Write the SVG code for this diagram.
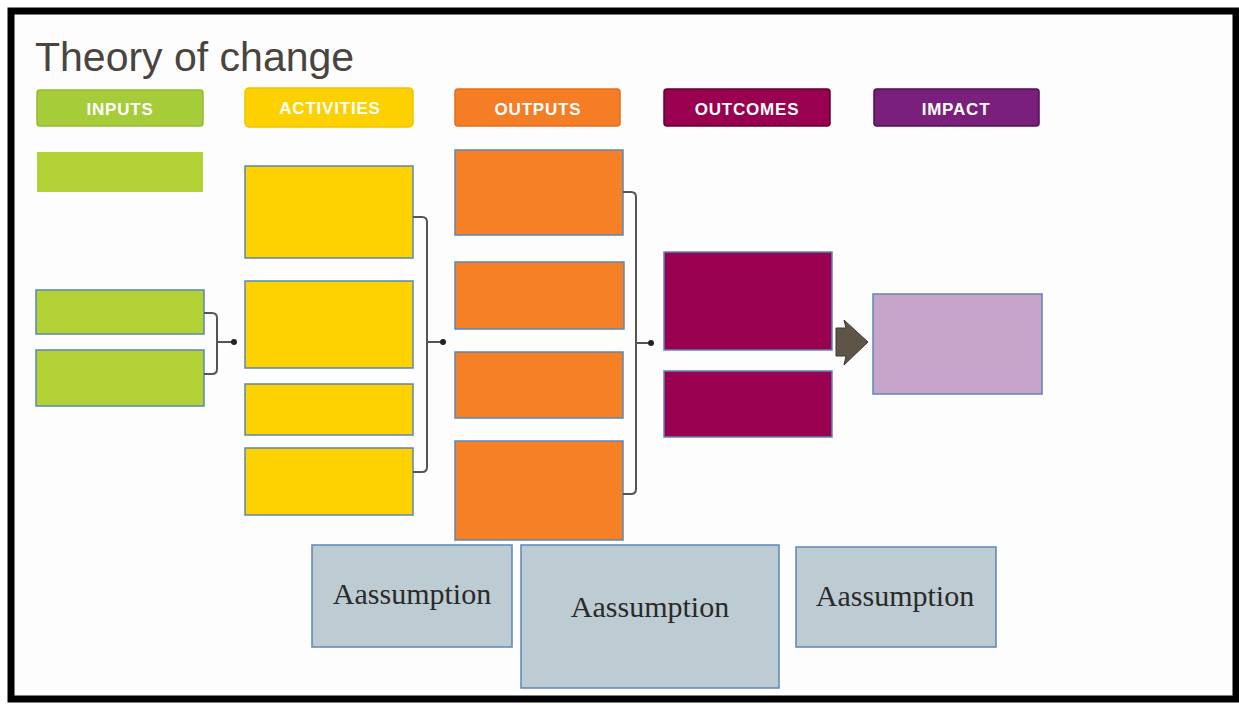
<svg xmlns="http://www.w3.org/2000/svg" width="1239" height="705" viewBox="0 0 1239 705">
<style>
.hdr{stroke-width:1.5}
.ht{font-family:"Liberation Sans",Arial,sans-serif;font-weight:bold;font-size:17px;fill:#ffffff;text-anchor:middle;letter-spacing:0.8px}
.bx{stroke:#5b86b8;stroke-width:1.5}
.as{fill:#bdcbd2;stroke:#5b86b8;stroke-width:1.5}
.at{font-family:"Liberation Serif","Times New Roman",serif;font-size:30px;fill:#2a2a2a;text-anchor:middle}
.br{fill:none;stroke:#555555;stroke-width:2}
.dot{fill:#222222}
</style>
<rect x="0" y="0" width="1239" height="705" fill="#ffffff"/>
<rect x="11" y="11" width="1225" height="688" fill="#fdfdfd" stroke="#000000" stroke-width="7"/>
<text x="35" y="71" font-family="'Liberation Sans',Arial,sans-serif" font-size="41" fill="#4a4440">Theory of change</text>

<g id="hdr-inputs"><rect class="hdr" x="37" y="90" width="166" height="36" rx="3" fill="#a6cc3a" stroke="#95b934"/><text class="ht" x="120" y="115">INPUTS</text></g>
<g id="hdr-activities"><rect class="hdr" x="245" y="88" width="168" height="39" rx="4" fill="#fdd100" stroke="#f0c400"/><text class="ht" x="330" y="114">ACTIVITIES</text></g>
<g id="hdr-outputs"><rect class="hdr" x="455" y="89" width="165" height="37" rx="3" fill="#f47d26" stroke="#e06f1c"/><text class="ht" x="538" y="115">OUTPUTS</text></g>
<g id="hdr-outcomes"><rect class="hdr" x="664" y="89" width="166" height="37" rx="3" fill="#99004f" stroke="#5e0030"/><text class="ht" x="747" y="115">OUTCOMES</text></g>
<g id="hdr-impact"><rect class="hdr" x="874" y="89" width="165" height="37" rx="3" fill="#7a1f7c" stroke="#4c1050"/><text class="ht" x="956" y="115">IMPACT</text></g>

<g id="input-1"><rect x="37" y="152" width="166" height="40" fill="#b2d235"/></g>
<g id="input-2"><rect class="bx" x="36" y="290" width="168" height="44" fill="#b2d235"/></g>
<g id="input-3"><rect class="bx" x="36" y="350" width="168" height="56" fill="#b2d235"/></g>

<g id="activity-1"><rect class="bx" x="245" y="166" width="168" height="92" fill="#fed100"/></g>
<g id="activity-2"><rect class="bx" x="245" y="281" width="168" height="87" fill="#fed100"/></g>
<g id="activity-3"><rect class="bx" x="245" y="384" width="168" height="51" fill="#fed100"/></g>
<g id="activity-4"><rect class="bx" x="245" y="448" width="168" height="67" fill="#fed100"/></g>

<g id="output-1"><rect class="bx" x="455" y="150" width="168" height="85" fill="#f58025"/></g>
<g id="output-2"><rect class="bx" x="455" y="262" width="169" height="67" fill="#f58025"/></g>
<g id="output-3"><rect class="bx" x="455" y="352" width="168" height="66" fill="#f58025"/></g>
<g id="output-4"><rect class="bx" x="455" y="441" width="168" height="99" fill="#f58025"/></g>

<g id="outcome-1"><rect class="bx" x="664" y="252" width="168" height="98" fill="#990050"/></g>
<g id="outcome-2"><rect class="bx" x="664" y="371" width="168" height="66" fill="#990050"/></g>

<g id="impact-1"><rect class="bx" x="873" y="294" width="169" height="100" fill="#c7a5cb"/></g>

<g id="connectors">
<path class="br" d="M204,313 H212 Q217,313 217,318 V369 Q217,374 212,374 H204"/>
<path class="br" d="M217,342 H234"/>
<circle class="dot" cx="234" cy="342" r="3"/>
<path class="br" d="M413,217 H422 Q427,217 427,222 V467 Q427,472 422,472 H413"/>
<path class="br" d="M427,342 H443"/>
<circle class="dot" cx="443" cy="342" r="3"/>
<path class="br" d="M623,192 H631 Q636,192 636,197 V489 Q636,494 631,494 H623"/>
<path class="br" d="M636,343 H651"/>
<circle class="dot" cx="651" cy="343" r="3"/>
<path d="M836,328 H846 L844,320 L868,342 L844,365 L846,356 H836 Z" fill="#5f5547" stroke="#3e372e" stroke-width="1"/>
</g>

<g id="assumption-1"><rect class="as" x="312" y="545" width="200" height="102"/><text class="at" x="412" y="604">Aassumption</text></g>
<g id="assumption-2"><rect class="as" x="521" y="545" width="258" height="143"/><text class="at" x="650" y="617">Aassumption</text></g>
<g id="assumption-3"><rect class="as" x="796" y="547" width="200" height="100"/><text class="at" x="895" y="606">Aassumption</text></g>
</svg>
